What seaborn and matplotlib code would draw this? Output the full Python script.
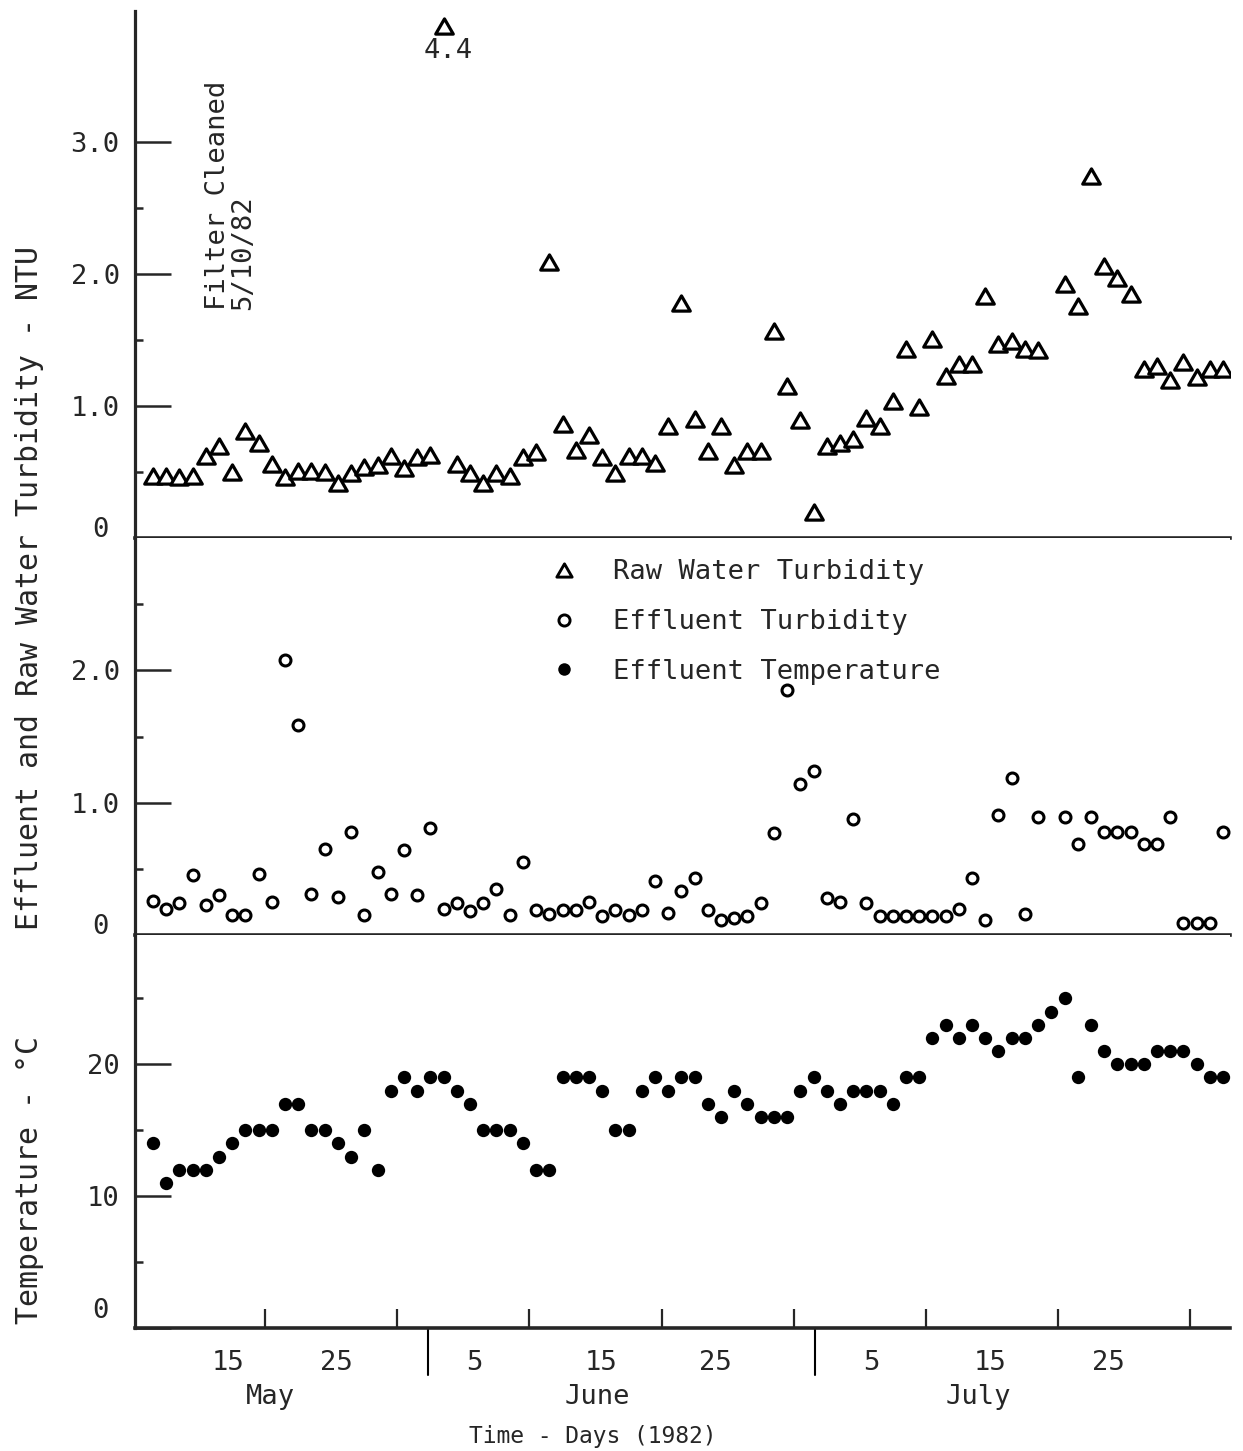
import numpy as np
import pandas as pd
import matplotlib
matplotlib.use("Agg")
import matplotlib.pyplot as plt
from matplotlib.lines import Line2D
from matplotlib.path import Path
import seaborn as sns

# 1. DATA (day 1 = May 1 1982)
turb_days = list(range(12, 80)) + list(range(81, 94))   # no turbidity sample on day 80
temp_days = list(range(12, 94))

raw_turbidity = [0.47, 0.47, 0.46, 0.47, 0.62, 0.70, 0.50, 0.81, 0.72, 0.56,
                 0.46, 0.51, 0.51, 0.50, 0.42, 0.49, 0.54, 0.55, 0.62, 0.53,
                 0.61, 0.63, 4.4, 0.56, 0.49, 0.42, 0.49, 0.47, 0.61, 0.65,
                 2.09, 0.86, 0.67, 0.78, 0.61, 0.49, 0.62, 0.62, 0.57, 0.85,
                 1.78, 0.90, 0.66, 0.85, 0.55, 0.66, 0.66, 1.57, 1.15, 0.89,
                 0.20, 0.70, 0.72, 0.75, 0.91, 0.85, 1.04, 1.43, 0.99, 1.51,
                 1.23, 1.32, 1.32, 1.83, 1.47, 1.49, 1.43, 1.42,
                 1.92, 1.76, 2.74, 2.06, 1.97, 1.85, 1.28, 1.30, 1.20, 1.33,
                 1.22, 1.28, 1.28]

effluent_turbidity = [0.26, 0.20, 0.24, 0.45, 0.23, 0.30, 0.15, 0.15, 0.46, 0.25,
                      2.08, 1.59, 0.31, 0.65, 0.29, 0.78, 0.15, 0.48, 0.31, 0.64,
                      0.30, 0.81, 0.20, 0.24, 0.18, 0.24, 0.35, 0.15, 0.55, 0.19,
                      0.16, 0.19, 0.19, 0.25, 0.14, 0.19, 0.15, 0.19, 0.41, 0.17,
                      0.33, 0.43, 0.19, 0.11, 0.13, 0.14, 0.24, 0.77, 1.85, 1.14,
                      1.24, 0.28, 0.25, 0.88, 0.24, 0.14, 0.14, 0.14, 0.14, 0.14,
                      0.14, 0.20, 0.43, 0.11, 0.91, 1.19, 0.16, 0.89,
                      0.89, 0.69, 0.89, 0.78, 0.78, 0.78, 0.69, 0.69, 0.89, 0.09,
                      0.09, 0.09, 0.78]

effluent_temp = [14, 11, 12, 12, 12, 13, 14, 15, 15, 15,
                 17, 17, 15, 15, 14, 13, 15, 12, 18, 19,
                 18, 19, 19, 18, 17, 15, 15, 15, 14, 12,
                 12, 19, 19, 19, 18, 15, 15, 18, 19, 18,
                 19, 19, 17, 16, 18, 17, 16, 16, 16, 18,
                 19, 18, 17, 18, 18, 18, 17, 19, 19, 22,
                 23, 22, 23, 22, 21, 22, 22, 23, 24, 25,
                 19, 23, 21, 20, 20, 20, 21, 21, 21, 20,
                 19, 19]

day_labels = ['15', '25', '5', '15', '25', '5', '15', '25']
month_names = ['May', 'June', 'July']
series_names = ['Raw Water Turbidity', 'Effluent Turbidity', 'Effluent Temperature']

df_turb = pd.DataFrame({'day': turb_days, 'raw': raw_turbidity, 'eff': effluent_turbidity})
df_temp = pd.DataFrame({'day': temp_days, 'temp': effluent_temp})

# off-scale raw value is drawn at the top of the panel and labelled
RAW_CAP = 3.88
df_turb['raw_plot'] = df_turb['raw'].clip(upper=RAW_CAP)

# 2. STYLE
sns.set_style("ticks")
plt.rcParams.update({
    "font.family": ["DejaVu Sans Mono", "DejaVu Sans"],
    "font.size": 19.5,
    "axes.linewidth": 2.3,
    "xtick.direction": "in",
    "ytick.direction": "in",
})
FS = 19.5

tri = Path([(-1, -0.866), (1, -0.866), (0, 0.866), (-1, -0.866)], closed=True)

fig = plt.figure(figsize=(12.43, 14.51), dpi=100)
left, width = 0.1086, 0.881
ax_top = fig.add_axes([left, 0.6292, width, 0.3632])
ax_mid = fig.add_axes([left, 0.3556, width, 0.2736])
ax_bot = fig.add_axes([left, 0.0848, width, 0.2708])

xlim = (10.64, 93.53)

# --- top: raw water turbidity ---
sns.scatterplot(data=df_turb, x='day', y='raw_plot', ax=ax_top, marker=tri, s=160,
                color='white', edgecolor='black', linewidth=2.3, legend=False, zorder=3)
big = df_turb.loc[df_turb['raw'] > RAW_CAP]
for d, v in zip(big['day'], big['raw']):
    ax_top.annotate(f"{v:.1f}", xy=(d, RAW_CAP), xytext=(3, -18),
                    textcoords='offset points', ha='center', va='center', fontsize=FS)
ax_top.text(17.9, 1.73, "Filter Cleaned\n5/10/82", rotation=90, ha='center', va='bottom',
            multialignment='left', linespacing=0.95, fontsize=FS)
ax_top.set_ylim(0, 3.99)
ax_top.set_yticks([0, 1, 2, 3], ['', '1.0', '2.0', '3.0'])
ax_top.set_yticks([0.5, 1.5, 2.5], minor=True)

# --- middle: effluent turbidity ---
sns.scatterplot(data=df_turb, x='day', y='eff', ax=ax_mid, marker='o', s=62,
                color='white', edgecolor='black', linewidth=2.2, legend=False, zorder=3)
ax_mid.set_ylim(0, 3.0)
ax_mid.set_yticks([0, 1, 2], ['', '1.0', '2.0'])
ax_mid.set_yticks([0.5, 1.5, 2.5], minor=True)

handles = [
    Line2D([], [], ls='none', marker=tri, markersize=11, mfc='white', mec='black', mew=2.1),
    Line2D([], [], ls='none', marker='o', markersize=8, mfc='white', mec='black', mew=2.1),
    Line2D([], [], ls='none', marker='o', markersize=9, mfc='black', mec='black', mew=0),
]
ax_mid.legend(handles, series_names, loc='upper left', bbox_to_anchor=(0.3795, 0.946),
              frameon=False, handlelength=1.0, handletextpad=1.3, labelspacing=0.87,
              borderpad=0, borderaxespad=0, fontsize=FS)

# --- bottom: effluent temperature ---
sns.scatterplot(data=df_temp, x='day', y='temp', ax=ax_bot, marker='o', s=92,
                color='black', edgecolor='black', linewidth=0, legend=False, zorder=3)
ax_bot.set_ylim(0, 29.8)
ax_bot.set_yticks([0, 10, 20], ['', '10', '20'])
ax_bot.set_yticks([5, 15, 25], minor=True)

# zero labels sit a little above the axis line in the original
zero_lift = {ax_top: 6, ax_mid: 6, ax_bot: 12}
for ax in (ax_top, ax_mid, ax_bot):
    ax.set_xlim(*xlim)
    ax.set_xlabel("")
    ax.set_ylabel("")
    sns.despine(ax=ax)
    ax.spines['left'].set_linewidth(2.3)
    ax.spines['bottom'].set_linewidth(2.6)
    ax.tick_params(axis='y', which='major', length=26, width=1.8, pad=11, labelsize=FS)
    ax.tick_params(axis='y', which='minor', length=6, width=1.8)
    ax.annotate('0', xy=(0, 0), xycoords=('axes fraction', 'data'),
                xytext=(-19, zero_lift[ax]), textcoords='offset points',
                ha='right', va='center', fontsize=FS)
    if ax is not ax_bot:
        ax.set_xticks([])

# x axis: tick marks every 10 days, day numbers placed as printed
tick_days = np.arange(20.5, 91, 10)
label_days = [17.7, 25.9, 36.3, 45.9, 54.6, 66.4, 75.4, 84.3]
month_pos = [20.9, 45.6, 74.5]
month_breaks = [32.8, 62.1]

ax_bot.set_xticks(tick_days, [''] * len(tick_days))
ax_bot.set_xticks(label_days, day_labels, minor=True)
ax_bot.tick_params(axis='x', which='major', length=14, width=1.6)
ax_bot.tick_params(axis='x', which='minor', length=0, pad=16, labelsize=FS)

xt = ax_bot.get_xaxis_transform()
for b in month_breaks:
    ax_bot.plot([b, b], [0, -0.12], transform=xt, color='black', lw=1.5, clip_on=False)
for m, p in zip(month_names, month_pos):
    ax_bot.text(p, -0.176, m, transform=xt, ha='center', va='center', fontsize=FS)
ax_bot.text(45.3, -0.277, "Time - Days (1982)", transform=xt, ha='center', va='center', fontsize=16.5)

fig.text(30 / 1243, 1 - 588 / 1451, "Effluent and Raw Water Turbidity - NTU",
         rotation=90, ha='center', va='center', fontsize=21.5)
fig.text(30 / 1243, 1 - 1180 / 1451, "Temperature - °C",
         rotation=90, ha='center', va='center', fontsize=21.5)

# 3. SAVE
fig.savefig('out.png', dpi=100, facecolor='white')
